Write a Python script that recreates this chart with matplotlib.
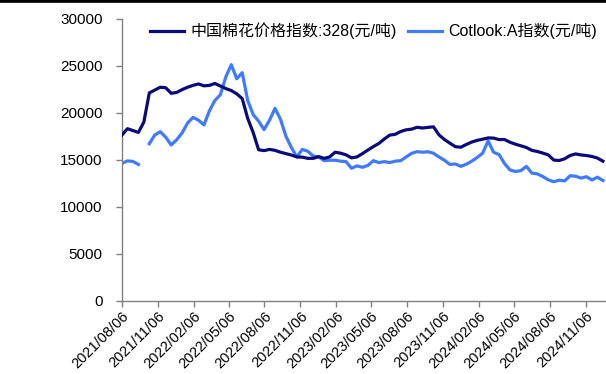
import matplotlib
matplotlib.use("Agg")
import matplotlib.pyplot as plt
import numpy as np
import pandas as pd

plt.rcParams['font.family'] = ['Liberation Sans', 'Noto Sans CJK SC', 'DejaVu Sans']

# Biweekly observations starting 2021-08-06
start_date = "2021-08-06"
n_points = 89

china_cotton_index = [
    17630, 18300, 18100, 17900, 19000, 22100, 22400, 22700, 22650, 22060,
    22150, 22450, 22700, 22900, 23050, 22850, 22900, 23100, 22830, 22560,
    22350, 22000, 21500, 19400, 17900, 16060, 15970, 16100, 16000, 15800,
    15650, 15500, 15300, 15280, 15150, 15150, 15330, 15150, 15300, 15800,
    15700, 15520, 15200, 15300, 15650, 16030, 16400, 16730, 17200, 17620,
    17700, 18000, 18180, 18250, 18450, 18370, 18440, 18500, 17650, 17150,
    16760, 16390, 16330, 16620, 16880, 17060, 17180, 17320, 17300, 17140,
    17150, 16860, 16650, 16480, 16300, 16000, 15880, 15710, 15520, 14970,
    14920, 15100, 15450, 15620, 15510, 15450, 15350, 15180, 14850,
]

cotlook_a_index = [
    14620, 14880, 14820, 14500, np.nan, 16700, 17630, 17980, 17400, 16570,
    17120, 17850, 18900, 19500, 19200, 18700, 20200, 21300, 21900, 23800,
    25100, 23600, 24250, 21300, 19800, 19100, 18200, 19200, 20460, 19300,
    17500, 16300, 15300, 16100, 15900, 15400, 15300, 14900, 14950, 14950,
    14850, 14800, 14100, 14350, 14200, 14400, 14900, 14700, 14800, 14700,
    14850, 14900, 15300, 15680, 15860, 15800, 15850, 15690, 15300, 14950,
    14500, 14550, 14300, 14520, 14850, 15250, 15700, 17000, 15800, 15550,
    14600, 13920, 13750, 13850, 14300, 13580, 13500, 13220, 12870, 12670,
    12830, 12750, 13300, 13250, 13050, 13200, 12850, 13150, 12800,
]

tick_dates = [
    "2021/08/06", "2021/11/06", "2022/02/06", "2022/05/06", "2022/08/06",
    "2022/11/06", "2023/02/06", "2023/05/06", "2023/08/06", "2023/11/06",
    "2024/02/06", "2024/05/06", "2024/08/06", "2024/11/06",
]

label_cn = "中国棉花价格指数:328(元/吨)"
label_ct = "Cotlook:A指数(元/吨)"

dates = pd.date_range(start_date, periods=n_points, freq="14D")

fig = plt.figure(figsize=(6.06, 3.74), dpi=100)
ax = fig.add_axes([0.2013, 0.1952, 0.7987, 0.7553])

ax.plot(dates, china_cotton_index, color="#0A0A7A", lw=2.3, solid_joinstyle="round",
        label=label_cn, zorder=3)
ax.plot(dates, cotlook_a_index, color="#3F7BFF", lw=2.3, solid_joinstyle="round",
        label=label_ct, zorder=2)

ax.set_ylim(0, 30000)
ax.set_yticks(np.arange(0, 30001, 5000))
ax.set_xlim(pd.Timestamp("2021-08-06"), pd.Timestamp("2024-12-28"))

ticks = pd.to_datetime(tick_dates, format="%Y/%m/%d")
ax.set_xticks(ticks)
ax.set_xticklabels(tick_dates, rotation=45, ha="right", rotation_mode="anchor")

for side in ("top", "right"):
    ax.spines[side].set_visible(False)
for side in ("left", "bottom"):
    ax.spines[side].set_color("#808080")
    ax.spines[side].set_linewidth(1.0)

ax.tick_params(axis="y", direction="out", length=4, width=1, color="#808080",
               pad=10, labelsize=11)
ax.tick_params(axis="x", direction="out", length=4, width=1, color="#808080",
               pad=2, labelsize=10.5)

ax.legend(loc="upper left", bbox_to_anchor=(0.058, 0.985), ncol=2, frameon=False,
          fontsize=11.5, handlelength=2.1, handletextpad=0.4, columnspacing=0.75,
          borderaxespad=0, borderpad=0)

# heavy rule across the top edge
fig.add_artist(plt.Line2D([0, 1], [0.996, 0.996], color="black", lw=2.6,
                          transform=fig.transFigure))

fig.savefig("out.png", dpi=100)
